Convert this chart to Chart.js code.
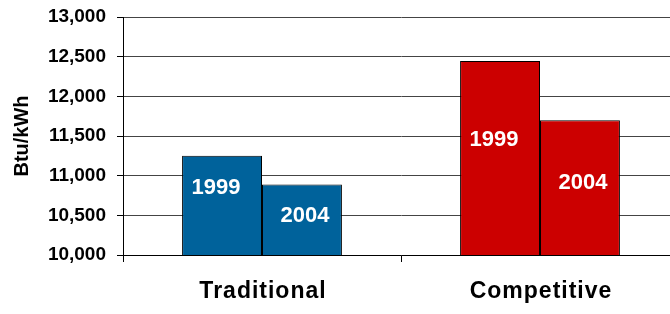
<!DOCTYPE html>
<html>
<head>
<meta charset="utf-8">
<script src="https://cdn.jsdelivr.net/npm/chart.js@4.4.1/dist/chart.umd.min.js"></script>
<style>
  html, body { margin: 0; padding: 0; background: #fff; overflow: hidden; }
  #wrap { position: relative; width: 690px; height: 314px; }
</style>
</head>
<body>
<div id="wrap"><canvas id="chart"></canvas></div>
<script>
// dane
const categories = ['Traditional', 'Competitive'];
const seriesNames = ['1999', '2004'];
const values1999 = [11250, 12445];
const values2004 = [10890, 11700];
const categoryColors = ['#00629B', '#CC0000'];

// napisy z rokiem wewnatrz slupkow
const barLabels = {
    id: 'barLabels',
    afterDatasetsDraw(chart, args, opts) {
        const ctx = chart.ctx;
        ctx.save();
        ctx.fillStyle = '#fff';
        ctx.font = 'bold 22px "Liberation Sans", Arial, sans-serif';
        ctx.textAlign = 'center';
        ctx.textBaseline = 'middle';
        chart.data.datasets.forEach((ds, di) => {
            chart.getDatasetMeta(di).data.forEach((bar, i) => {
                const dy = opts.offsets[i][di];
                ctx.fillText(ds.label, bar.x + opts.shiftX[di], bar.y + dy);
            });
        });
        ctx.restore();
    }
};

// etykiety kategorii rysowane recznie (szersze litery)
const categoryLabels = {
    id: 'categoryLabels',
    afterDraw(chart) {
        const ctx = chart.ctx;
        const x = chart.scales.x;
        ctx.save();
        ctx.fillStyle = '#000';
        ctx.font = 'bold 23px "Liberation Sans", Arial, sans-serif';
        ctx.letterSpacing = '1px';
        ctx.textAlign = 'center';
        ctx.textBaseline = 'middle';
        categories.forEach((c, i) => {
            ctx.fillText(c, x.getPixelForValue(i) + 1, chart.chartArea.bottom + 37);
        });
        ctx.restore();
    }
};

new Chart(document.getElementById('chart'), {
    type: 'bar',
    data: {
        labels: categories,
        datasets: [
            { label: seriesNames[0], data: values1999, backgroundColor: categoryColors, borderColor: '#000', borderWidth: 1 },
            { label: seriesNames[1], data: values2004, backgroundColor: categoryColors, borderColor: '#000', borderWidth: 1 }
        ]
    },
    options: {
        responsive: true,
        maintainAspectRatio: false,
        animation: false,
        layout: { padding: { top: 17, right: 11, left: 0, bottom: 0 } },
        datasets: { bar: { categoryPercentage: 0.575, barPercentage: 1 } },
        plugins: {
            legend: { display: false },
            tooltip: { enabled: false },
            barLabels: { offsets: [[32, 32], [79, 63]], shiftX: [-6, 3] }
        },
        scales: {
            x: {
                afterFit: (s) => { s.height = 59; },
                border: { color: '#000', width: 1 },
                grid: { offset: true, drawOnChartArea: false, color: '#000', tickLength: 7 },
                ticks: { display: false }
            },
            y: {
                min: 10000,
                max: 13000,
                afterFit: (s) => { s.width = 123; s.paddingTop = 0; s.paddingBottom = 0; },
                border: { color: '#000', width: 1 },
                grid: { color: '#444', tickLength: 6, tickColor: '#000' },
                ticks: {
                    stepSize: 500,
                    padding: 11,
                    color: '#000',
                    font: { family: '"Liberation Sans", Arial, sans-serif', size: 19, weight: 'bold' },
                    callback: (v) => v.toLocaleString('en-US')
                },
                title: {
                    display: true,
                    text: 'Btu/kWh',
                    color: '#000',
                    padding: { top: 10, bottom: 0 },
                    font: { family: '"Liberation Sans", Arial, sans-serif', size: 20, weight: 'bold' }
                }
            }
        }
    },
    plugins: [barLabels, categoryLabels]
});
</script>
</body>
</html>
